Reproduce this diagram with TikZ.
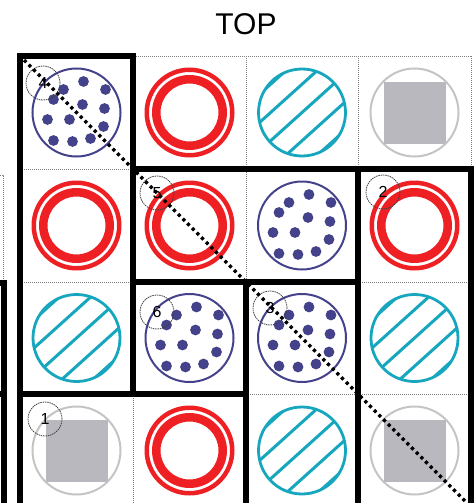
\documentclass[tikz,border=0pt]{standalone}
\usepackage{fontspec}
\setmainfont{Liberation Sans}
\definecolor{ringred}{RGB}{238,32,36}
\definecolor{dotpurple}{RGB}{68,66,138}
\definecolor{hatchcyan}{RGB}{22,166,190}
\definecolor{sqgray}{RGB}{184,184,190}
\definecolor{circgray}{RGB}{196,196,196}
\definecolor{gridgray}{RGB}{125,125,125}
\tikzset{
  gridline/.style={gridgray, line width=0.7pt, dash pattern=on 1pt off 1pt},
  wall/.style={black, line width=6pt, line cap=rect, line join=miter},
  diagline/.style={black, line width=3.2pt, dash pattern=on 3.2pt off 3.4pt},
  labelcirc/.style={circle, draw=black!75, line width=0.8pt, dash pattern=on 1.5pt off 0.8pt,
    minimum size=34pt, inner sep=0pt, font=\fontsize{16}{16}\selectfont},
  pics/redring/.style={code={
    \fill[ringred, even odd rule] (0,0) circle (45) (0,0) circle (40.5)
      (0,0) circle (37.5) (0,0) circle (29);
  }},
  pics/dotsc/.style={code={
    \draw[dotpurple, line width=2pt] (0,0) circle (44);
    \foreach \p in {(7,-31),(-13,-23),(29,-23),(-23,-13),(6,-8),(28,-4),(-29,7),(-7,7),(27,14),(-23,28),(-4,29),(14,26)}
      \fill[dotpurple] \p circle (5.4);
  }},
  pics/hatchc/.style={code={
    \begin{scope}
      \clip (0,0) circle (44);
      \foreach \k in {-42,-21,0,21,42}
        \draw[hatchcyan, line width=3pt]
          ({\k*sin(42)-60*cos(42)},{\k*cos(42)+60*sin(42)}) --
          ({\k*sin(42)+60*cos(42)},{\k*cos(42)-60*sin(42)});
    \end{scope}
    \draw[hatchcyan, line width=2.8pt] (0,0) circle (43.5);
  }},
  pics/squarec/.style={code={
    \fill[sqgray] (-31,-31) rectangle (31,31);
    \draw[circgray, line width=2pt] (0,0) circle (44);
  }}
}
\begin{document}
\begin{tikzpicture}[x=1pt,y=-1pt]
\useasboundingbox (0,0) rectangle (476,503);
\begin{scope}
\clip (0,0) rectangle (476,503);
% title
\node[anchor=base, font=\fontsize{30}{30}\selectfont] (title) at (246,35) {TOP};
% thin grid
\foreach \x in {20,133,246,358,471} \draw[gridline] (\x,56) -- (\x,510);
\foreach \y in {56,169,282,394} \draw[gridline] (20,\y) -- (471,\y);
% left partial panel
\draw[gridline] (0,175) -- (3,175) -- (3,283);
% cell contents
\pic at (76.5,112.5) {dotsc};
\pic at (189.5,112.5) {redring};
\pic at (302,112.5) {hatchc};
\pic at (414.5,112.5) {squarec};
\pic at (76.5,225.5) {redring};
\pic at (189.5,225.5) {redring};
\pic at (302,225.5) {dotsc};
\pic at (414.5,225.5) {redring};
\pic at (76.5,338) {hatchc};
\pic at (189.5,338) {dotsc};
\pic at (302,338) {dotsc};
\pic at (414.5,338) {hatchc};
\pic at (76.5,450.5) {squarec};
\pic at (189.5,450.5) {redring};
\pic at (302,450.5) {hatchc};
\pic at (414.5,450.5) {squarec};
% thick walls
\draw[wall] (20,56) -- (20,515);
\draw[wall] (20,56) -- (133,56) -- (133,394);
\draw[wall] (133,169) -- (471,169);
\draw[wall] (133,282) -- (358,282);
\draw[wall] (20,394) -- (246,394);
\draw[wall] (246,282) -- (246,515);
\draw[wall] (358,169) -- (358,515);
\draw[wall] (471,169) -- (471,515);
\draw[wall] (-8,283) -- (3.5,283) -- (3.5,515);
\draw[wall] (-8,394) -- (3.5,394);
% labels
\node[labelcirc] (n4) at (43,83) {4};
\node[labelcirc] (n5) at (157,193) {5};
\node[labelcirc] (n2) at (383,192) {2};
\node[labelcirc] (n6) at (157,312) {6};
\node[labelcirc] (n3) at (270,308) {3};
\node[labelcirc] (n1) at (45,419) {1};
% diagonal
\coordinate (dstart) at (24,60);
\coordinate (dend) at (484,520);
\draw[diagline] (dstart) -- (dend);
\end{scope}
\end{tikzpicture}
\end{document}
